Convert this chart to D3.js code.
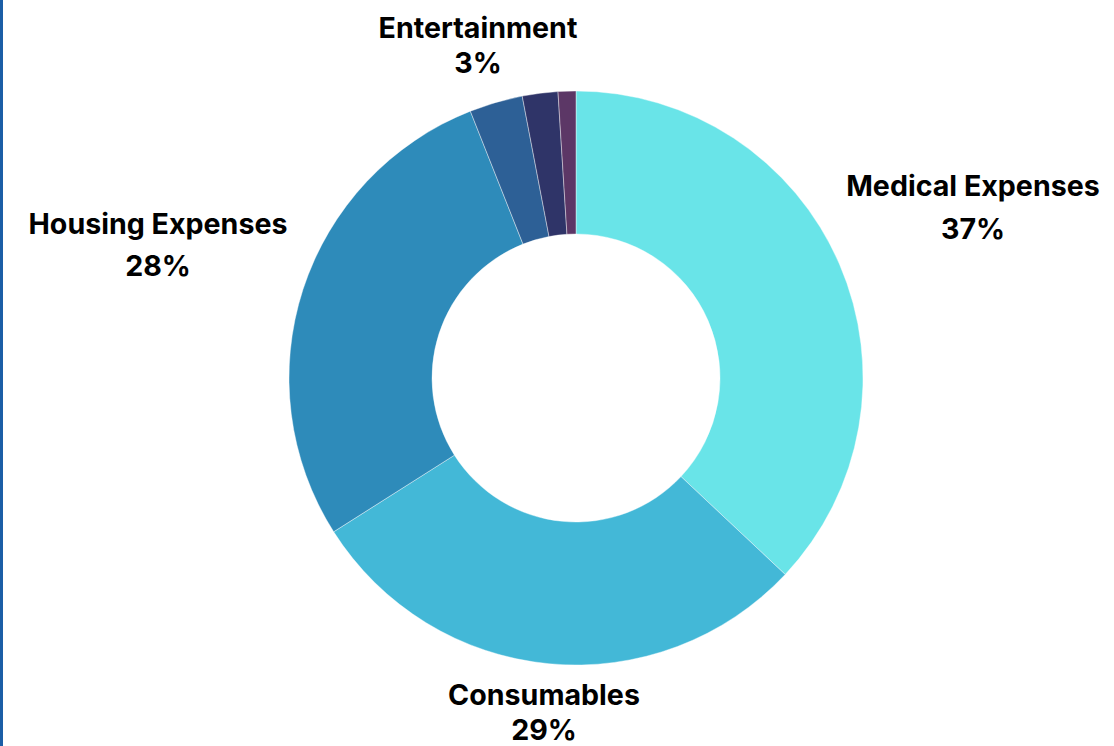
<!DOCTYPE html>
<html>
<head>
<meta charset="utf-8">
<script src="https://cdn.jsdelivr.net/npm/d3@7"></script>
<style>
  html, body { margin: 0; padding: 0; background: #ffffff; }
  svg { display: block; }
</style>
</head>
<body>
<svg id="chart" width="1114" height="746"></svg>
<script>
// Monthly spending breakdown (percent of total)
const categories = ["Medical Expenses", "Consumables", "Housing Expenses", "Entertainment", "", ""];
const values = [37, 29, 28, 3, 2, 1];
const colors = ["#69e4e8", "#43b8d7", "#2e8bba", "#2d6096", "#2f3468", "#5c3766"];

const width = 1114, height = 746;
const cx = 576, cy = 378;
const outerR = 287, innerR = 144;

const svg = d3.select("#chart");

// left accent bar
svg.append("rect")
  .attr("x", 0).attr("y", 0)
  .attr("width", 3).attr("height", height)
  .attr("fill", "#1b5ea6");

const data = categories.map((c, i) => ({ name: c, value: values[i], color: colors[i] }));

const pie = d3.pie().sort(null).value(d => d.value);
const arc = d3.arc().innerRadius(innerR).outerRadius(outerR);

const g = svg.append("g").attr("transform", `translate(${cx},${cy})`);

const arcs = pie(data);

g.selectAll("path")
  .data(arcs)
  .join("path")
  .attr("d", arc)
  .attr("fill", d => d.data.color)
  .attr("stroke", "#ffffff")
  .attr("stroke-opacity", 0.5)
  .attr("stroke-width", 0.8);

// label anchors: center x, first baseline, gap to the percentage line
const labelLayout = {
  "Medical Expenses": { x: 973, y: 196, gap: 43 },
  "Consumables":      { x: 544, y: 705, gap: 35 },
  "Housing Expenses": { x: 158, y: 234, gap: 42 },
  "Entertainment":    { x: 478, y: 38,  gap: 35 }
};

const labels = svg.append("g")
  .attr("font-family", "Inter, 'Open Sans', sans-serif")
  .attr("font-weight", 700)
  .attr("font-size", 28.6)
  .attr("fill", "#000000")
  .attr("text-anchor", "middle");

arcs.filter(d => d.data.name !== "").forEach(d => {
  const p = labelLayout[d.data.name];
  const t = labels.append("text").attr("x", p.x).attr("y", p.y);
  t.append("tspan").attr("x", p.x).attr("y", p.y).text(d.data.name);
  t.append("tspan").attr("x", p.x).attr("y", p.y + p.gap).text(Math.round(d.value) + "%");
});
</script>
</body>
</html>
